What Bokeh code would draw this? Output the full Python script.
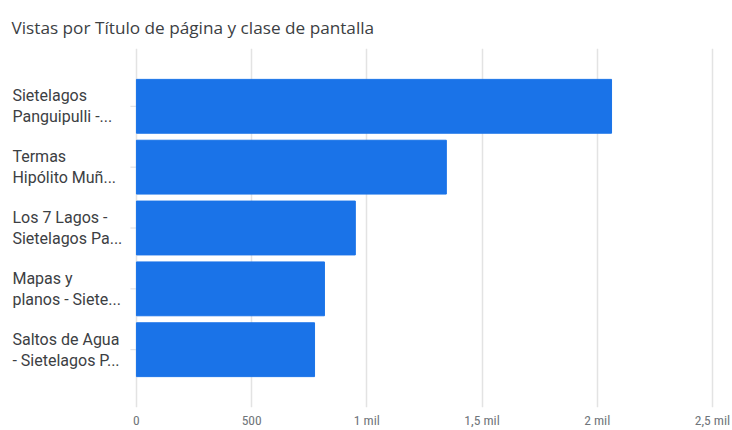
from bokeh.plotting import figure
from bokeh.models import Range1d, FixedTicker
from bokeh.core.properties import value
from bokeh.embed import file_html
from bokeh.resources import INLINE

categories = [
    "Sietelagos\nPanguipulli -...",
    "Termas\nHipólito Muñ...",
    "Los 7 Lagos -\nSietelagos Pa...",
    "Mapas y\nplanos - Siete...",
    "Saltos de Agua\n- Sietelagos P...",
]
views = [2062, 1345, 950, 816, 773]
tick_values = [0, 500, 1000, 1500, 2000, 2500]
tick_labels = ["0", "500", "1 mil", "1,5 mil", "2 mil", "2,5 mil"]

n = len(categories)
ypos = [n - 1 - i for i in range(n)]
zeros = [0] * n

p = figure(width=732, height=430, output_backend="svg", toolbar_location=None,
           x_range=Range1d(-590, 2587), y_range=Range1d(-0.95, n - 0.05),
           min_border_left=0, min_border_right=0, min_border_top=48, min_border_bottom=22)

p.title.text = "Vistas por Título de página y clase de pantalla"
p.title.text_font = "Open Sans"
p.title.text_font_size = "17.2px"
p.title.text_font_style = "normal"
p.title.text_color = "#3c4043"
p.title.offset = 11
p.title.standoff = 20

# small category tick marks left of the bars
p.scatter(x=zeros, y=ypos, marker="dash", size=12, line_color="#dadce0", line_width=1)

p.hbar(y=ypos, right=views, left=0, height=0.885, color="#1a73e8", line_color="#1a73e8")

p.text(x=zeros, y=ypos, text=categories, x_offset=-124, text_align="left",
       text_baseline="middle", text_font=value("Roboto"), text_font_size="16px",
       text_color="#3c4043", text_line_height=1.125)

p.outline_line_color = None
p.ygrid.grid_line_color = None
p.xgrid.grid_line_color = "#e3e3e3"
p.xgrid.grid_line_width = 1.5
p.yaxis.visible = False

p.xaxis.ticker = FixedTicker(ticks=tick_values)
p.xaxis.major_label_overrides = {v: t for v, t in zip(tick_values, tick_labels)}
p.xaxis.axis_line_color = None
p.xaxis.major_tick_line_color = None
p.xaxis.minor_tick_line_color = None
p.xaxis.major_tick_out = 0
p.xaxis.major_tick_in = 0
p.xaxis.major_label_text_font = "Roboto Condensed"
p.xaxis.major_label_text_font_size = "13.5px"
p.xaxis.major_label_text_color = "#70757a"
p.xaxis.major_label_standoff = 4

open("out.html", "w").write(file_html(p, INLINE))
